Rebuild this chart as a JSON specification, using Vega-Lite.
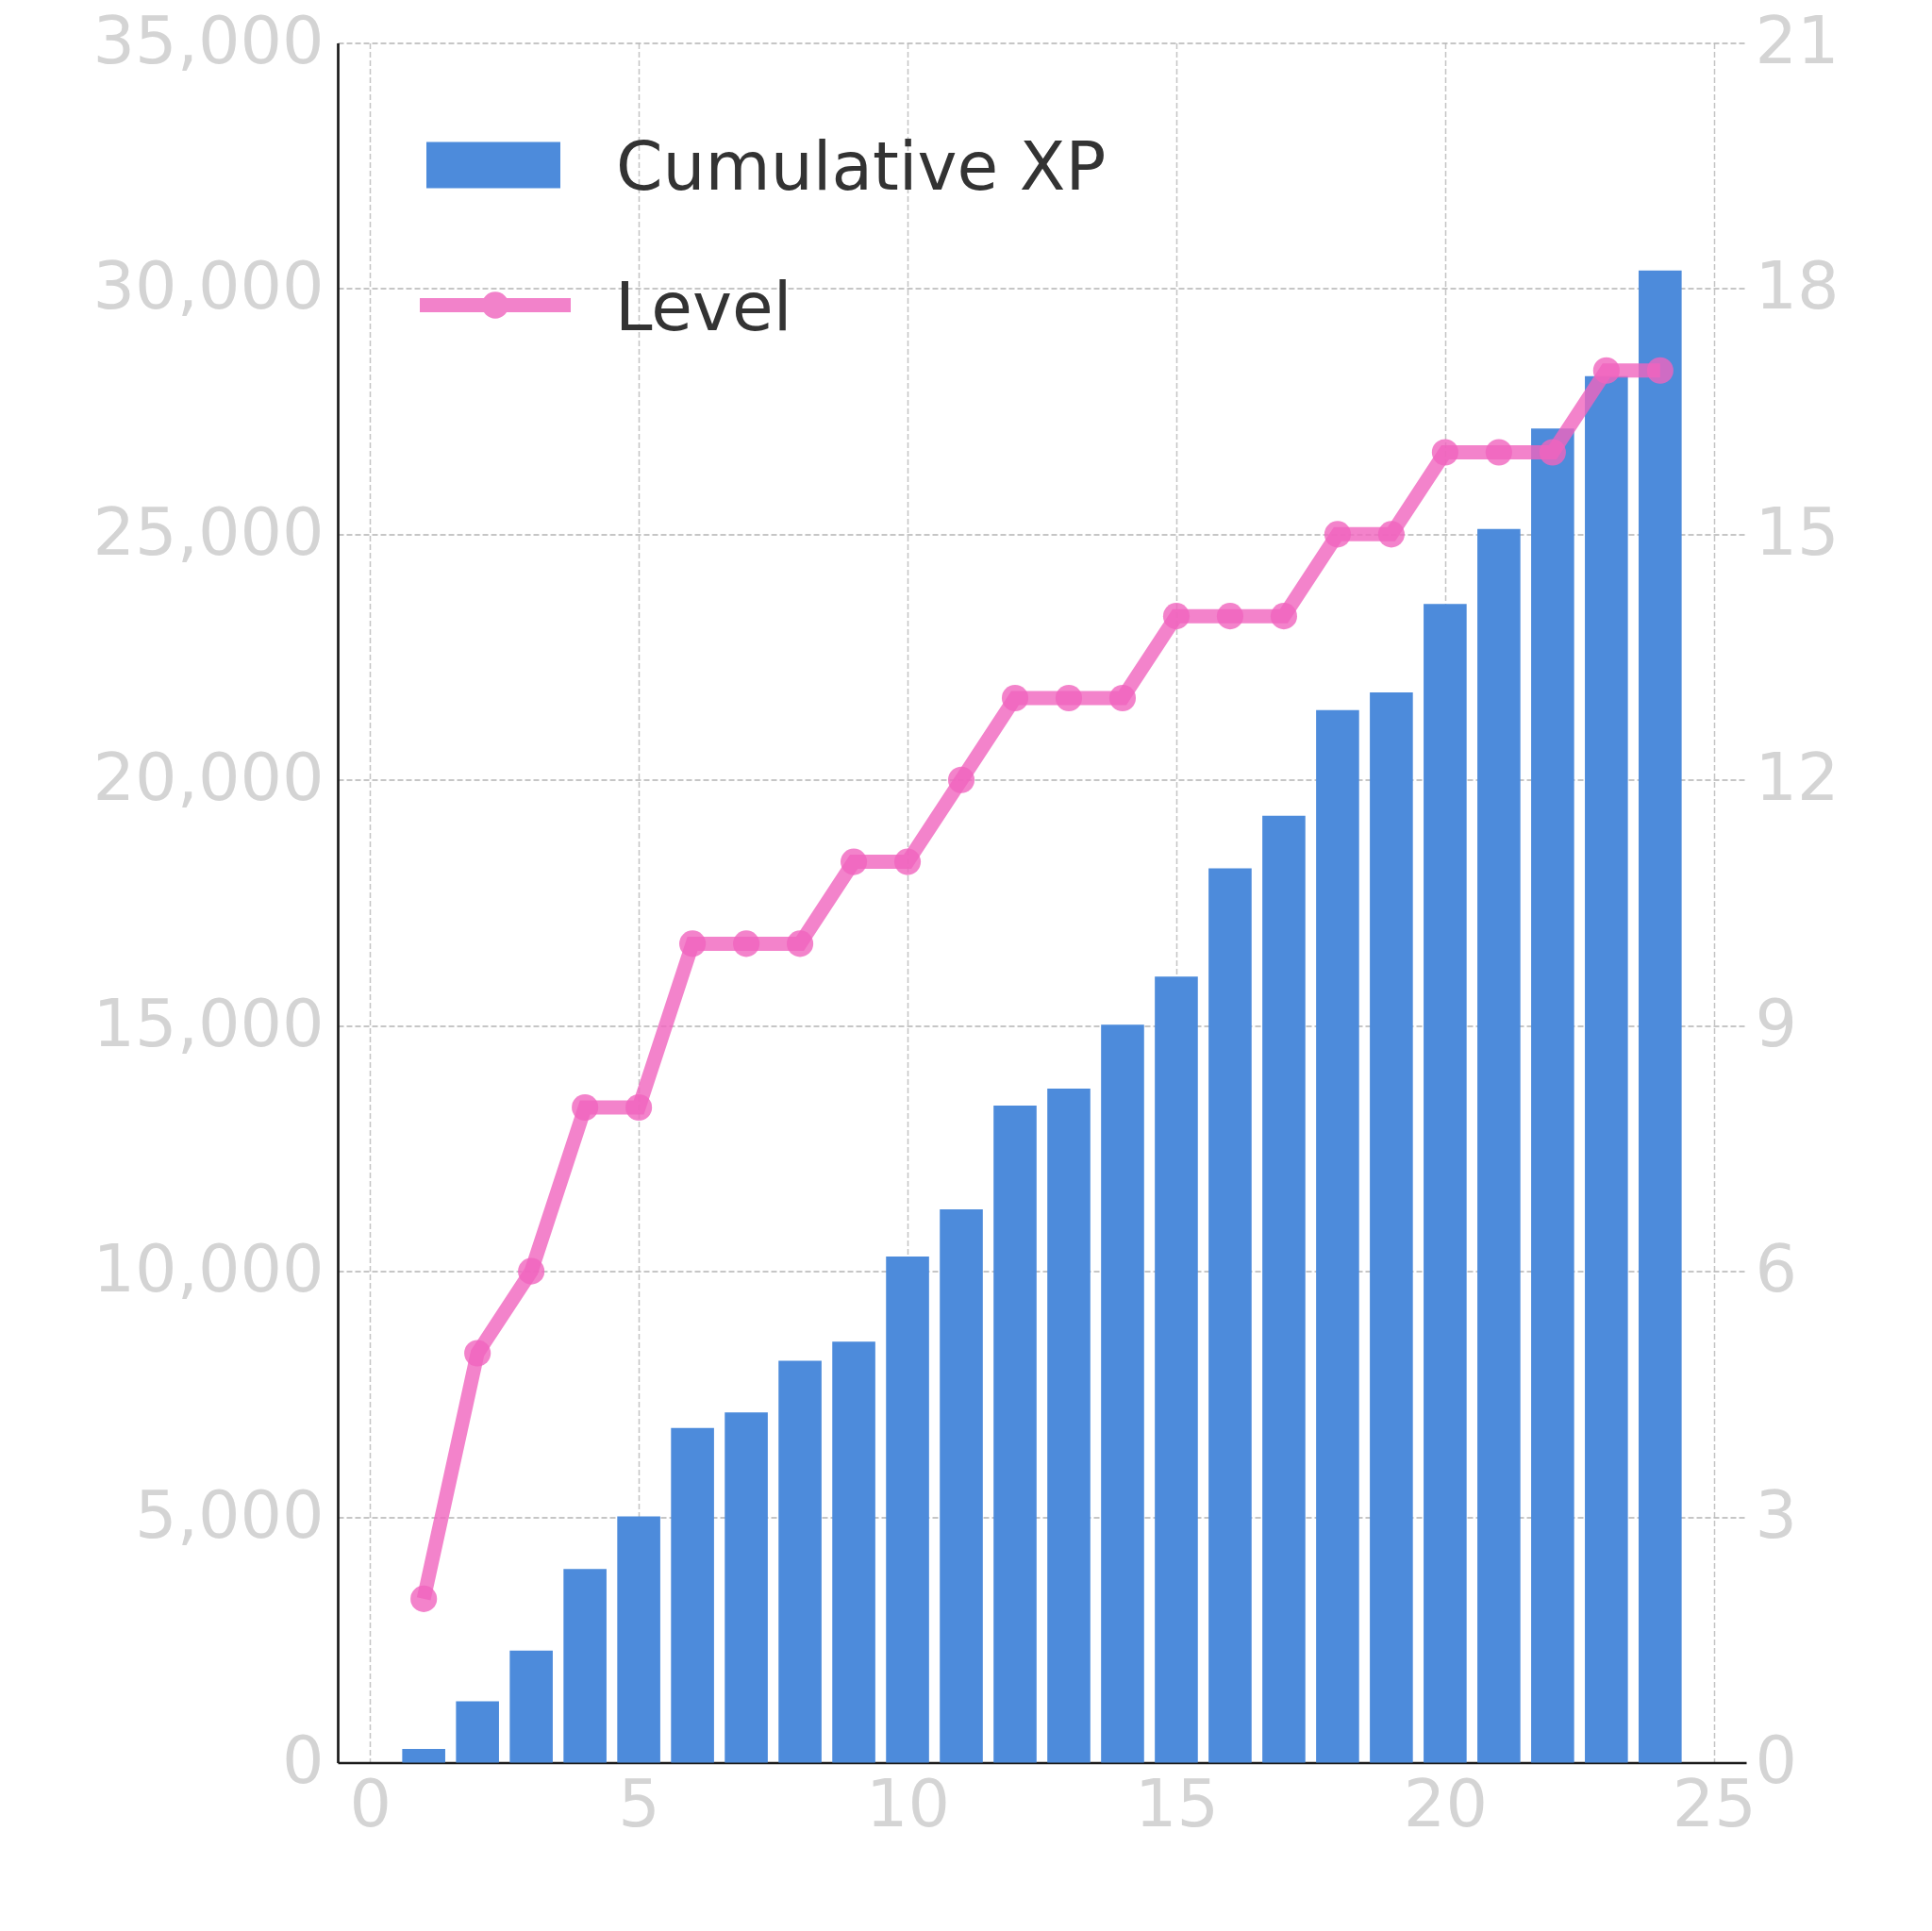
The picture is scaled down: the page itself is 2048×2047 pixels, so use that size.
{
  "$schema": "https://vega.github.io/schema/vega-lite/v6.json",
  "width": 1493,
  "height": 1823,
  "autosize": {"type": "none"},
  "padding": {"left": 358, "top": 45.5, "right": 197, "bottom": 178.5},
  "background": "white",
  "data": {
    "values": [
      {"day": 1, "xp": 280, "level": 2},
      {"day": 2, "xp": 1250, "level": 5},
      {"day": 3, "xp": 2280, "level": 6},
      {"day": 4, "xp": 3940, "level": 8},
      {"day": 5, "xp": 5010, "level": 8},
      {"day": 6, "xp": 6810, "level": 10},
      {"day": 7, "xp": 7130, "level": 10},
      {"day": 8, "xp": 8180, "level": 10},
      {"day": 9, "xp": 8570, "level": 11},
      {"day": 10, "xp": 10300, "level": 11},
      {"day": 11, "xp": 11260, "level": 12},
      {"day": 12, "xp": 13370, "level": 13},
      {"day": 13, "xp": 13720, "level": 13},
      {"day": 14, "xp": 15020, "level": 13},
      {"day": 15, "xp": 16000, "level": 14},
      {"day": 16, "xp": 18200, "level": 14},
      {"day": 17, "xp": 19270, "level": 14},
      {"day": 18, "xp": 21420, "level": 15},
      {"day": 19, "xp": 21780, "level": 15},
      {"day": 20, "xp": 23580, "level": 16},
      {"day": 21, "xp": 25110, "level": 16},
      {"day": 22, "xp": 27150, "level": 16},
      {"day": 23, "xp": 28220, "level": 17},
      {"day": 24, "xp": 30370, "level": 17}
    ]
  },
  "encoding": {
    "x": {
      "field": "day",
      "type": "quantitative",
      "title": null,
      "scale": {"domain": [-0.6, 25.6], "nice": false, "zero": false, "padding": 0},
      "axis": {
        "values": [0, 5, 10, 15, 20, 25],
        "format": "d",
        "grid": true,
        "gridColor": "#c4c4c4",
        "gridDash": [6, 3],
        "gridWidth": 1.5,
        "ticks": false,
        "domainColor": "#1a1a1a",
        "domainWidth": 2.7,
        "labelPadding": 12,
        "labelFlush": false
      }
    }
  },
  "layer": [
    {
      "mark": {"type": "bar", "width": 45.6, "color": "#4d8bdb"},
      "encoding": {
        "y": {
          "field": "xp",
          "type": "quantitative",
          "title": null,
          "scale": {"domain": [0, 35000], "nice": false},
          "axis": {
            "orient": "left",
            "values": [0, 5000, 10000, 15000, 20000, 25000, 30000, 35000],
            "format": ",.0f",
            "grid": true,
            "gridColor": "#b4b4b4",
            "gridDash": [6, 3],
            "gridWidth": 1.5,
            "ticks": false,
            "domainColor": "#1a1a1a",
            "domainWidth": 2.7,
            "labelPadding": 15
          }
        },
        "fill": {
          "datum": "Cumulative XP",
          "type": "nominal",
          "scale": {"range": ["#4d8bdb"]},
          "legend": {
            "orient": "none",
            "legendX": 94,
            "legendY": 58.5,
            "title": null,
            "symbolType": "M-1,-0.345H1V0.345H-1Z",
            "symbolSize": 20164,
            "symbolStrokeWidth": 0,
            "labelOffset": 59,
            "encode": {"labels": {"update": {"dy": {"value": 5}}}}
          }
        }
      }
    },
    {
      "layer": [
        {
          "mark": {"type": "line", "strokeWidth": 15, "opacity": 0.8},
          "encoding": {
            "y": {
              "field": "level",
              "type": "quantitative",
              "title": null,
              "scale": {"domain": [0, 21], "nice": false},
              "axis": {
                "orient": "right",
                "values": [0, 3, 6, 9, 12, 15, 18, 21],
                "format": "d",
                "grid": false,
                "ticks": false,
                "domain": false,
                "labelPadding": 9
              }
            },
            "stroke": {
              "datum": "Level",
              "type": "nominal",
              "scale": {"range": ["#f064be"]},
              "legend": {
                "orient": "none",
                "legendX": 79.5,
                "legendY": 190.5,
                "title": null,
                "symbolType": "M-1,0H1M-0.084,0A0.084,0.084 0 1,0 0.084,0A0.084,0.084 0 1,0 -0.084,0Z",
                "symbolSize": 25600,
                "symbolStrokeWidth": 15,
                "symbolFillColor": "#f064be",
                "symbolOpacity": 0.8,
                "labelOffset": 39.5,
                "encode": {"labels": {"update": {"dy": {"value": 5}}}}
              }
            }
          }
        },
        {
          "mark": {"type": "point", "filled": true, "size": 790, "color": "#f064be", "opacity": 0.8},
          "encoding": {
            "y": {"field": "level", "type": "quantitative"}
          }
        }
      ]
    }
  ],
  "resolve": {"scale": {"y": "independent"}, "axis": {"y": "independent"}},
  "config": {
    "view": {"stroke": null},
    "font": "DejaVu Sans",
    "axis": {
      "labelFont": "DejaVu Sans",
      "labelFontSize": 70,
      "labelColor": "#d4d4d4",
      "labelLimit": 0
    },
    "legend": {
      "labelFont": "DejaVu Sans",
      "labelFontSize": 71,
      "labelColor": "#333333",
      "labelLimit": 0
    }
  }
}
